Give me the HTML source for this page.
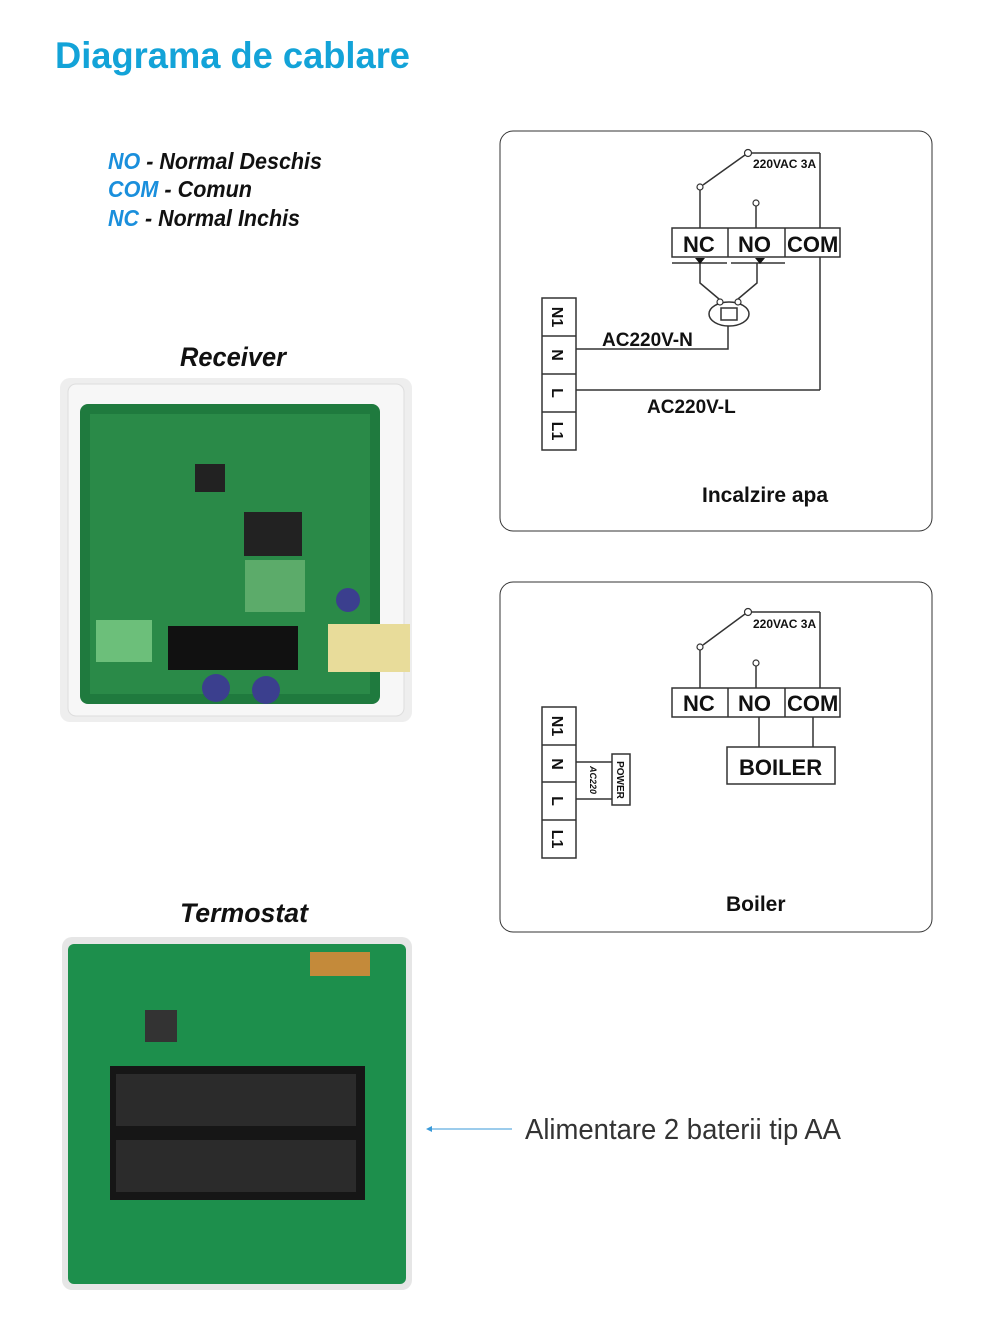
<!DOCTYPE html>
<html><head><meta charset="utf-8"><style>
html,body{margin:0;padding:0;background:#fff;}
svg{display:block;}
text{font-family:"Liberation Sans",sans-serif;}
</style></head><body>
<svg width="1000" height="1344" viewBox="0 0 1000 1344" xmlns="http://www.w3.org/2000/svg">
<text x="55" y="68" font-size="37" fill="#13a3d8" font-weight="bold" textLength="355" lengthAdjust="spacingAndGlyphs">Diagrama de cablare</text>
<g font-size="23" font-style="italic" font-weight="bold">
<text x="108" y="169" textLength="214" lengthAdjust="spacingAndGlyphs"><tspan fill="#1a8fdc">NO</tspan><tspan fill="#111"> - Normal Deschis</tspan></text>
<text x="108" y="197" textLength="144" lengthAdjust="spacingAndGlyphs"><tspan fill="#1a8fdc">COM</tspan><tspan fill="#111"> - Comun</tspan></text>
<text x="108" y="226" textLength="192" lengthAdjust="spacingAndGlyphs"><tspan fill="#1a8fdc">NC</tspan><tspan fill="#111"> - Normal Inchis</tspan></text>
<text x="180" y="366" font-size="27" fill="#111" textLength="106" lengthAdjust="spacingAndGlyphs">Receiver</text>
<text x="180" y="922" font-size="27" fill="#111" textLength="128" lengthAdjust="spacingAndGlyphs">Termostat</text>
</g>
<!-- receiver photo -->
<rect x="60" y="378" width="352" height="344" rx="10" fill="#eeeeee"/>
<rect x="68" y="384" width="336" height="332" rx="8" fill="#f7f7f7" stroke="#ddd"/>
<rect x="80" y="404" width="300" height="300" rx="8" fill="#1f7a3e"/>
<rect x="90" y="414" width="280" height="280" fill="#2a8a48"/>
<rect x="168" y="626" width="130" height="44" fill="#111"/>
<rect x="244" y="512" width="58" height="44" fill="#222"/>
<rect x="245" y="560" width="60" height="52" fill="#5cab6a"/>
<rect x="96" y="620" width="56" height="42" fill="#6cbf7a"/>
<rect x="328" y="624" width="82" height="48" fill="#e8dc9a"/>
<circle cx="216" cy="688" r="14" fill="#3b3f8e"/>
<circle cx="266" cy="690" r="14" fill="#3b3f8e"/>
<circle cx="348" cy="600" r="12" fill="#3b3f8e"/>
<rect x="195" y="464" width="30" height="28" fill="#222"/>
<!-- thermostat photo -->
<rect x="62" y="937" width="350" height="353" rx="10" fill="#e6e6e6"/>
<rect x="68" y="944" width="338" height="340" rx="6" fill="#1d8f4c"/>
<rect x="110" y="1066" width="255" height="134" fill="#161616"/>
<rect x="116" y="1074" width="240" height="52" fill="#2b2b2b"/>
<rect x="116" y="1140" width="240" height="52" fill="#2b2b2b"/>
<rect x="145" y="1010" width="32" height="32" fill="#333"/>
<rect x="310" y="952" width="60" height="24" fill="#c48a3a"/>
<!-- arrow -->
<line x1="428" y1="1129" x2="512" y2="1129" stroke="#3a9ad9" stroke-width="1"/>
<path d="M426 1129 l6 -3 v6 z" fill="#3a9ad9"/>
<text x="525" y="1139" font-size="29" fill="#333" textLength="316" lengthAdjust="spacingAndGlyphs">Alimentare 2 baterii tip AA</text>

<!-- diagram 1 -->
<rect x="500" y="131" width="432" height="400" rx="13" fill="none" stroke="#333" stroke-width="1"/>
<g stroke="#333" stroke-width="1.5" fill="none">
<rect x="542" y="298" width="34" height="152"/>
<line x1="542" y1="336" x2="576" y2="336"/><line x1="542" y1="374" x2="576" y2="374"/><line x1="542" y1="412" x2="576" y2="412"/>
<rect x="672" y="228" width="168" height="29"/>
<line x1="728" y1="228" x2="728" y2="257"/><line x1="785" y1="228" x2="785" y2="257"/>
<line x1="700" y1="190" x2="700" y2="228"/>
<line x1="703" y1="185" x2="745" y2="155"/>
<line x1="751" y1="153" x2="820" y2="153"/><line x1="820" y1="153" x2="820" y2="228"/>
<line x1="820" y1="257" x2="820" y2="390"/><line x1="576" y1="390" x2="820" y2="390"/>
<line x1="756" y1="206" x2="756" y2="228"/>
<line x1="672" y1="263" x2="727" y2="263"/><line x1="731" y1="263" x2="785" y2="263"/>
<polyline points="700,263 700,283 719,299"/><polyline points="757,263 757,283 738,299"/>
<ellipse cx="729" cy="314" rx="20" ry="12"/>
<rect x="721" y="308" width="16" height="12"/>
<polyline points="728,326 728,349 576,349"/>
</g>
<g fill="#fff" stroke="#333" stroke-width="1.2">
<circle cx="700" cy="187" r="3"/><circle cx="748" cy="153" r="3.5"/><circle cx="756" cy="203" r="3"/>
<circle cx="720" cy="302" r="3"/><circle cx="738" cy="302" r="3"/>
</g>
<path d="M695 258 h10 l-5 6 z M755 258 h10 l-5 6 z" fill="#111"/>
<g font-weight="bold" fill="#111">
<text x="753" y="168" font-size="12">220VAC 3A</text>
<text x="683" y="252" font-size="22">NC</text><text x="738" y="252" font-size="22">NO</text><text x="787" y="252" font-size="22">COM</text>
<text x="602" y="346" font-size="19">AC220V-N</text>
<text x="647" y="413" font-size="19">AC220V-L</text>
<text x="702" y="502" font-size="21">Incalzire apa</text>
<g font-size="16">
<text transform="translate(552,317) rotate(90)" text-anchor="middle">N1</text>
<text transform="translate(552,355) rotate(90)" text-anchor="middle">N</text>
<text transform="translate(552,393) rotate(90)" text-anchor="middle">L</text>
<text transform="translate(552,431) rotate(90)" text-anchor="middle">L1</text>
</g>
</g>

<!-- diagram 2 -->
<rect x="500" y="582" width="432" height="350" rx="13" fill="none" stroke="#333" stroke-width="1"/>
<g stroke="#333" stroke-width="1.5" fill="none">
<rect x="542" y="707" width="34" height="151"/>
<line x1="542" y1="745" x2="576" y2="745"/><line x1="542" y1="782" x2="576" y2="782"/><line x1="542" y1="820" x2="576" y2="820"/>
<line x1="576" y1="762" x2="612" y2="762"/><line x1="576" y1="799" x2="612" y2="799"/>
<rect x="612" y="754" width="18" height="51"/>
<rect x="672" y="688" width="168" height="29"/>
<line x1="728" y1="688" x2="728" y2="717"/><line x1="785" y1="688" x2="785" y2="717"/>
<line x1="700" y1="650" x2="700" y2="688"/>
<line x1="703" y1="645" x2="745" y2="614"/>
<line x1="751" y1="612" x2="820" y2="612"/><line x1="820" y1="612" x2="820" y2="688"/>
<line x1="756" y1="666" x2="756" y2="688"/>
<line x1="759" y1="717" x2="759" y2="747"/><line x1="813" y1="717" x2="813" y2="747"/>
<rect x="727" y="747" width="108" height="37"/>
</g>
<g fill="#fff" stroke="#333" stroke-width="1.2">
<circle cx="700" cy="647" r="3"/><circle cx="748" cy="612" r="3.5"/><circle cx="756" cy="663" r="3"/>
</g>
<g font-weight="bold" fill="#111">
<text x="753" y="628" font-size="12">220VAC 3A</text>
<text x="683" y="711" font-size="22">NC</text><text x="738" y="711" font-size="22">NO</text><text x="787" y="711" font-size="22">COM</text>
<text x="739" y="775" font-size="22">BOILER</text>
<text x="726" y="911" font-size="21">Boiler</text>
<text transform="translate(617,780) rotate(90)" text-anchor="middle" font-size="10">POWER</text>
<text transform="translate(590,780) rotate(90)" text-anchor="middle" font-size="9" font-style="italic">AC220</text>
<g font-size="16">
<text transform="translate(552,726) rotate(90)" text-anchor="middle">N1</text>
<text transform="translate(552,764) rotate(90)" text-anchor="middle">N</text>
<text transform="translate(552,801) rotate(90)" text-anchor="middle">L</text>
<text transform="translate(552,839) rotate(90)" text-anchor="middle">L1</text>
</g>
</g>
</svg>
</body></html>
